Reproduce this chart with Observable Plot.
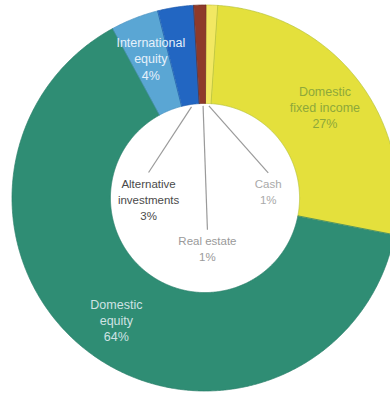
<!DOCTYPE html>
<html>
<head>
<meta charset="utf-8">
<script src="https://cdn.jsdelivr.net/npm/d3@7"></script>
<script src="https://cdn.jsdelivr.net/npm/@observablehq/plot@0.6"></script>
<style>
html, body { margin: 0; padding: 0; background: #ffffff; }
#chart svg { display: block; }
</style>
</head>
<body>
<div id="chart"></div>
<script>
// ---- Data ----
const categories = ["Cash", "Domestic fixed income", "Domestic equity", "International equity", "Alternative investments", "Real estate"];
const shares = [1, 27, 64, 4, 3, 1];
const labelNames = ["Cash", "Domestic\nfixed income", "Domestic\nequity", "International\nequity", "Alternative\ninvestments", "Real estate"];

// ---- Style / layout ----
const colors = ["#f2e862", "#e4e03c", "#2f8d74", "#5aa6d4", "#2266c2", "#8e3a2a"];
const edgeColors = ["#c9c43a", "#b5c23a", "#2a7f69", "#4c93c2", "#1d58aa", "#6e2c20"];
const labelColors = ["#a9a9a9", "#8ea83a", "#cfe3e4", "#e6f1fb", "#4a4a4a", "#9a9a9a"];
const labelMode = ["leader", "ring", "ring", "ring", "leader", "leader"];
// leader label centres (in units of the outer radius, origin at ring centre)
const leaderLabelPos = {
  "Cash": [0.325, 0.04],
  "Alternative investments": [-0.295, 0.0],
  "Real estate": [0.01, -0.255]
};
const R = 1, r0 = 0.49, labelRadius = 0.78, leaderInner = 0.48;
const startOffset = 0.3 * Math.PI / 180;
const W = 390, H = 396, cx = 205, cy = 198, Rpx = 193;

// ---- Build geometry from data ----
const pie = d3.pie().sort(null).value(i => shares[i])
  .startAngle(startOffset).endAngle(2 * Math.PI + startOffset);
const arcs = pie(d3.range(categories.length));

const bandPts = [];
arcs.forEach(a => {
  const cat = categories[a.data];
  const n = Math.max(2, Math.ceil((a.endAngle - a.startAngle) / (0.4 * Math.PI / 180)));
  for (let k = 0; k <= n; k++) {
    const t = a.startAngle + (a.endAngle - a.startAngle) * k / n;
    bandPts.push({
      category: cat,
      xo: R * Math.sin(t), yo: R * Math.cos(t),
      xi: r0 * Math.sin(t), yi: r0 * Math.cos(t)
    });
  }
});

const ringLabels = [];
const leaderLabels = [];
arcs.forEach(a => {
  const i = a.data;
  const mid = (a.startAngle + a.endAngle) / 2;
  const text = `${labelNames[i]}\n${shares[i]}%`;
  if (labelMode[i] === "ring") {
    ringLabels.push({
      category: categories[i], text, color: labelColors[i],
      x: labelRadius * Math.sin(mid), y: labelRadius * Math.cos(mid)
    });
  } else {
    const [lx, ly] = leaderLabelPos[categories[i]];
    const lines = text.split("\n").length;
    const halfH = lines * 16 / 2 / Rpx;
    leaderLabels.push({
      category: categories[i], text, color: labelColors[i],
      x: lx, y: ly,
      x1: leaderInner * Math.sin(mid), y1: leaderInner * Math.cos(mid),
      x2: lx, y2: ly + halfH + 2 / Rpx
    });
  }
});

const chart = Plot.plot({
  width: W,
  height: H,
  margin: 0,
  style: { background: "#ffffff" },
  x: { domain: [-cx / Rpx, (W - cx) / Rpx], axis: null },
  y: { domain: [(cy - H) / Rpx, cy / Rpx], axis: null },
  color: { type: "ordinal", domain: categories, range: colors },
  marks: [
    Plot.area(bandPts, {
      x1: "xo", y1: "yo", x2: "xi", y2: "yi",
      z: "category", fill: "category",
      stroke: d => edgeColors[categories.indexOf(d.category)],
      strokeWidth: 1, strokeOpacity: 0.7, curve: "linear"
    }),
    Plot.link(leaderLabels, {
      x1: "x1", y1: "y1", x2: "x2", y2: "y2",
      stroke: "#9a9a9a", strokeWidth: 1.2
    }),
    Plot.text(ringLabels, {
      x: "x", y: "y", text: "text", fill: "color",
      fontSize: 12.5, lineHeight: 1.3, fontFamily: "Liberation Sans, Arial, sans-serif"
    }),
    Plot.text(leaderLabels, {
      x: "x", y: "y", text: "text", fill: "color",
      fontSize: 11.5, lineHeight: 1.4, fontFamily: "Liberation Sans, Arial, sans-serif"
    })
  ]
});
document.getElementById("chart").appendChild(chart);
</script>
</body>
</html>
